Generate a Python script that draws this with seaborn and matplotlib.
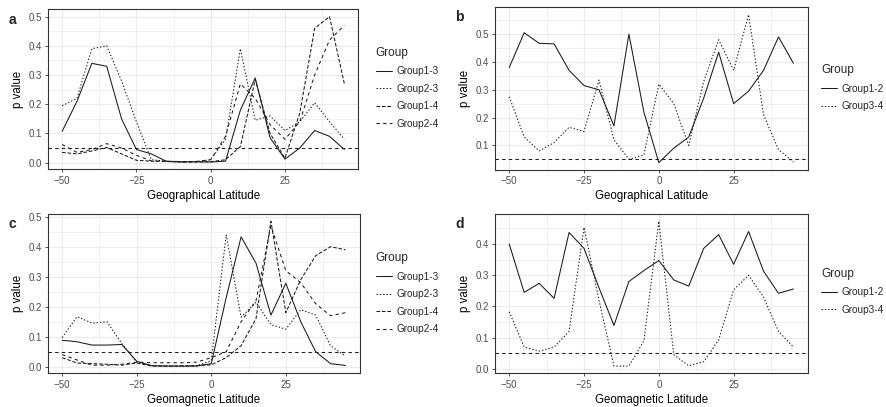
import pandas as pd
import matplotlib
matplotlib.use('Agg')
import matplotlib.pyplot as plt
from matplotlib.ticker import MultipleLocator, FormatStrFormatter
import seaborn as sns

# latitude bins (degrees)
lat = [-50, -45, -40, -35, -30, -25, -20, -15, -10, -5,
       0, 5, 10, 15, 20, 25, 30, 35, 40, 45]

# panel a: geographical latitude, four group pairs
a_13 = [0.107, 0.21, 0.34, 0.33, 0.15, 0.045, 0.03, 0.005, 0.003, 0.003,
        0.002, 0.005, 0.18, 0.29, 0.085, 0.012, 0.05, 0.11, 0.09, 0.045]
a_23 = [0.195, 0.22, 0.39, 0.40, 0.28, 0.14, 0.01, 0.005, 0.002, 0.003,
        0.01, 0.08, 0.39, 0.145, 0.16, 0.11, 0.14, 0.205, 0.14, 0.08]
a_14 = [0.035, 0.03, 0.04, 0.052, 0.03, 0.008, 0.005, 0.004, 0.002, 0.002,
        0.003, 0.01, 0.055, 0.285, 0.10, 0.015, 0.17, 0.46, 0.50, 0.27]
a_24 = [0.062, 0.035, 0.045, 0.065, 0.05, 0.025, 0.006, 0.004, 0.003, 0.004,
        0.01, 0.09, 0.27, 0.22, 0.13, 0.08, 0.14, 0.30, 0.42, 0.47]

# panel b: geographical latitude, two group pairs
b_12 = [0.38, 0.505, 0.467, 0.465, 0.37, 0.315, 0.30, 0.17, 0.50, 0.22,
        0.038, 0.09, 0.13, 0.27, 0.435, 0.25, 0.295, 0.37, 0.49, 0.395]
b_34 = [0.275, 0.13, 0.08, 0.11, 0.165, 0.15, 0.335, 0.12, 0.05, 0.065,
        0.32, 0.25, 0.10, 0.33, 0.48, 0.37, 0.57, 0.21, 0.085, 0.04]

# panel c: geomagnetic latitude, four group pairs
c_13 = [0.088, 0.083, 0.072, 0.072, 0.074, 0.018, 0.003, 0.002, 0.002, 0.002,
        0.01, 0.23, 0.433, 0.345, 0.172, 0.278, 0.15, 0.05, 0.01, 0.004]
c_23 = [0.097, 0.167, 0.145, 0.15, 0.077, 0.015, 0.004, 0.002, 0.002, 0.003,
        0.02, 0.44, 0.165, 0.215, 0.14, 0.125, 0.19, 0.172, 0.07, 0.035]
c_14 = [0.03, 0.012, 0.01, 0.008, 0.005, 0.012, 0.002, 0.002, 0.002, 0.003,
        0.006, 0.03, 0.07, 0.16, 0.485, 0.18, 0.29, 0.37, 0.40, 0.39]
c_24 = [0.04, 0.022, 0.005, 0.005, 0.008, 0.015, 0.013, 0.013, 0.013, 0.015,
        0.03, 0.05, 0.15, 0.22, 0.47, 0.32, 0.28, 0.21, 0.17, 0.18]

# panel d: geomagnetic latitude, two group pairs
d_12 = [0.40, 0.245, 0.274, 0.226, 0.437, 0.386, 0.26, 0.139, 0.28, 0.315,
        0.347, 0.285, 0.265, 0.386, 0.43, 0.335, 0.44, 0.313, 0.242, 0.256]
d_34 = [0.183, 0.07, 0.057, 0.07, 0.12, 0.453, 0.22, 0.009, 0.009, 0.09,
        0.473, 0.045, 0.01, 0.023, 0.093, 0.253, 0.30, 0.23, 0.12, 0.07]

groups4 = ['Group1-3', 'Group2-3', 'Group1-4', 'Group2-4']
groups2 = ['Group1-2', 'Group3-4']
cutoff = 0.05

sns.set_theme(style='white')
plt.rcParams['font.family'] = ['Liberation Sans', 'DejaVu Sans']
plt.rcParams['lines.scale_dashes'] = False

# ggplot linetypes: solid, "22", "42", "44"
dash_map = {'Group1-3': '', 'Group2-3': (1.0, 1.4), 'Group1-4': (2.6, 1.3),
            'Group2-4': (2.4, 2.4), 'Group1-2': '', 'Group3-4': (1.0, 1.4)}

panels = [
    ('a', 'Geographical Latitude', groups4, [a_13, a_23, a_14, a_24],
     [0.0542, 0.584, 0.3504, 0.393], 0.424, 0.785),
    ('b', 'Geographical Latitude', groups2, [b_12, b_34],
     [0.5587, 0.5823, 0.3529, 0.3998], 0.927, 0.785),
    ('c', 'Geomagnetic Latitude', groups4, [c_13, c_23, c_14, c_24],
     [0.0542, 0.0828, 0.3517, 0.3914], 0.424, 0.28),
    ('d', 'Geomagnetic Latitude', groups2, [d_12, d_34],
     [0.5587, 0.0828, 0.3529, 0.3914], 0.927, 0.285),
]

fig = plt.figure(figsize=(8.86, 4.07), dpi=100)
fig.patch.set_facecolor('white')

for tag, xlabel, groups, series, rect, lx, ly in panels:
    ax = fig.add_axes(rect)
    rows = []
    for g, vals in zip(groups, series):
        for x, v in zip(lat, vals):
            rows.append({'lat': x, 'p': v, 'Group': g})
    df = pd.DataFrame(rows)

    ax.axhline(cutoff, color='#1a1a1a', lw=0.75, dashes=(2.4, 2.4), zorder=3)
    sns.lineplot(data=df, x='lat', y='p', style='Group', style_order=groups,
                 dashes={g: dash_map[g] for g in groups}, color='#1a1a1a',
                 lw=0.75, ax=ax, legend=True, zorder=4)

    # ggplot-like 5% expansion, hline included in the scale
    lo = min(df['p'].min(), cutoff)
    hi = max(df['p'].max(), cutoff)
    pad = (hi - lo) * 0.05
    ax.set_ylim(lo - pad, hi + pad)
    ax.set_xlim(-50 - 4.75, 45 + 4.75)

    ax.xaxis.set_major_locator(MultipleLocator(25))
    ax.xaxis.set_minor_locator(MultipleLocator(12.5))
    ax.yaxis.set_major_locator(MultipleLocator(0.1))
    ax.yaxis.set_minor_locator(MultipleLocator(0.05))
    ax.yaxis.set_major_formatter(FormatStrFormatter('%.1f'))
    ax.grid(True, which='major', color='#EBEBEB', lw=0.8, zorder=0)
    ax.grid(True, which='minor', color='#EBEBEB', lw=0.5, zorder=0)
    ax.set_axisbelow(True)
    for s in ax.spines.values():
        s.set_color('#333333')
        s.set_linewidth(0.8)
    ax.tick_params(which='major', length=2.5, width=0.6, color='#333333',
                   labelsize=7, labelcolor='#4D4D4D', pad=2,
                   bottom=True, left=True)
    ax.tick_params(which='minor', length=0)
    ax.set_xlabel(xlabel, fontsize=8.3, color='black', labelpad=3)
    ax.set_ylabel('p value', fontsize=8.3, color='black', labelpad=3)

    sns.move_legend(ax, loc='center left', bbox_to_anchor=(lx, ly),
                    bbox_transform=fig.transFigure, title='Group',
                    frameon=False, fontsize=7.2, title_fontsize=8.5,
                    handlelength=1.6, handletextpad=0.45, labelspacing=0.75,
                    borderpad=0, borderaxespad=0)
    leg = ax.get_legend()
    leg._legend_box.align = 'left'
    for h in leg.legend_handles:
        h.set_linewidth(0.75)
        h.set_color('#1a1a1a')

    fig.text(rect[0] - 0.045, rect[1] + rect[3] - 0.025, tag,
             fontsize=10, fontweight='bold', ha='left', va='center')

fig.savefig('out.png', dpi=100)
